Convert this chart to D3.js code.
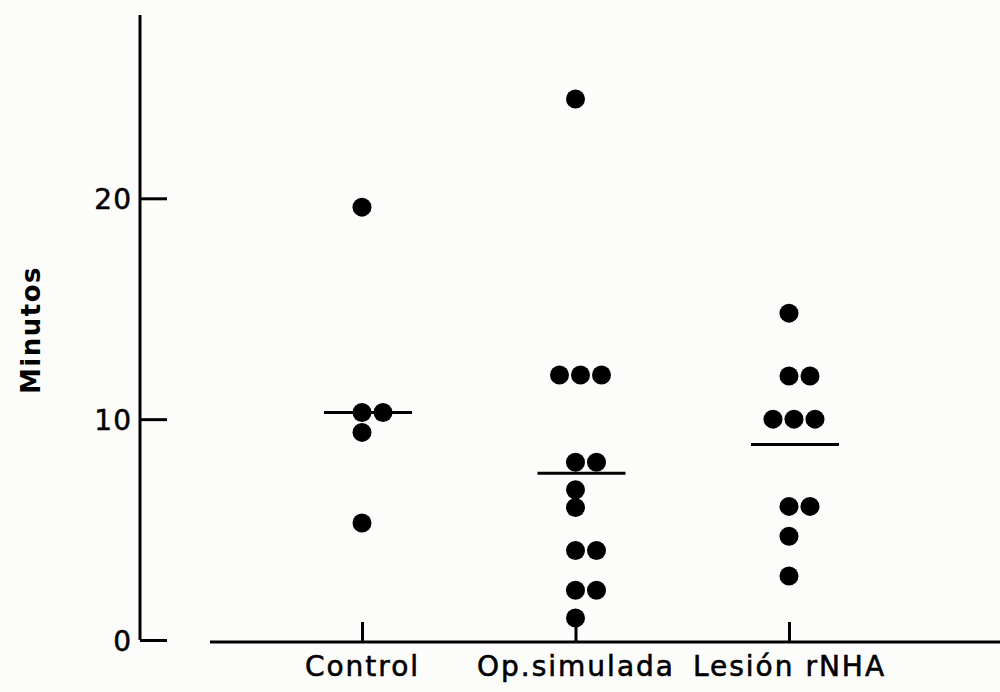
<!DOCTYPE html>
<html>
<head>
<meta charset="utf-8">
<script src="https://cdn.jsdelivr.net/npm/d3@7"></script>
<style>
  body { margin: 0; background: #fcfcfb; }
  svg { display: block; }
</style>
</head>
<body>
<svg id="chart" width="1000" height="692"></svg>
<script>
// values (minutes)
const categories = ["Control", "Op.simulada", "Lesión rNHA"];
const control = [19.6, 10.3, 10.3, 9.4, 5.3];
const opSimulada = [24.5, 12, 12, 12, 8.05, 8.05, 6.8, 6.0, 4.05, 4.05, 2.25, 2.25, 1.0];
const lesion = [14.8, 11.95, 11.95, 10, 10, 10, 6.05, 6.05, 4.7, 2.9];
const medians = [10.3, 7.55, 8.85];
const yTicks = [0, 10, 20];

const groups = [control, opSimulada, lesion];

const svg = d3.select("#chart");
const font = "'DejaVu Sans', sans-serif";

const y = d3.scaleLinear().domain([0, 28.3]).range([640, 15]);
const x = d3.scalePoint().domain(categories).range([362, 789]);

// y axis: long vertical line, ticks pointing right, labels to the left
svg.append("line")
  .attr("x1", 140).attr("x2", 140)
  .attr("y1", y(28.3)).attr("y2", y(0))
  .style("stroke", "#000").style("stroke-width", 3);

const yAxis = svg.append("g")
  .attr("transform", "translate(140,0)")
  .call(d3.axisLeft(y).tickValues(yTicks).tickSizeInner(-27).tickSizeOuter(0).tickPadding(8));
yAxis.select(".domain").remove();
yAxis.selectAll("line").style("stroke", "#000").style("stroke-width", 3);
yAxis.selectAll("text")
  .style("font-family", font).style("font-size", "28px").style("fill", "#000")
  .style("letter-spacing", "1px")
  .style("stroke", "#000").style("stroke-width", 0.5)
  .attr("dy", "0.36em");

svg.append("text")
  .attr("transform", "translate(40,330) rotate(-90)")
  .attr("text-anchor", "middle")
  .style("font-family", font).style("font-size", "26px").style("font-weight", "bold")
  .style("letter-spacing", "1.5px")
  .text("Minutos");

// x axis: separate baseline, short ticks upward at each group
svg.append("line")
  .attr("x1", 210).attr("x2", 1000)
  .attr("y1", 642).attr("y2", 642)
  .style("stroke", "#000").style("stroke-width", 3);

const xAxis = svg.append("g")
  .attr("transform", "translate(0,642)")
  .call(d3.axisBottom(x).tickSizeInner(-20).tickSizeOuter(0).tickPadding(14));
xAxis.select(".domain").remove();
xAxis.selectAll("line").style("stroke", "#000").style("stroke-width", 3);
xAxis.selectAll("text")
  .style("font-family", font).style("font-size", "28px").style("fill", "#000")
  .style("letter-spacing", "2px")
  .style("stroke", "#000").style("stroke-width", 0.6);

// dots: equal values sit side by side
const dots = [];
groups.forEach((vals, gi) => {
  const counts = d3.rollup(vals, (v) => v.length, (d) => d);
  const seen = new Map();
  vals.forEach((v) => {
    const n = counts.get(v);
    const i = seen.get(v) || 0;
    seen.set(v, i + 1);
    const start = n >= 3 ? -16 : 0;
    dots.push({ cat: categories[gi], v, dx: start + i * 21 });
  });
});

svg.append("g")
  .selectAll("circle")
  .data(dots)
  .enter()
  .append("circle")
  .attr("r", 9.5)
  .attr("cx", (d) => x(d.cat) + d.dx)
  .attr("cy", (d) => y(d.v))
  .attr("fill", "#000");

// median bars
svg.append("g")
  .selectAll("line")
  .data(medians)
  .enter()
  .append("line")
  .attr("x1", (d, i) => x(categories[i]) - 38)
  .attr("x2", (d, i) => x(categories[i]) + 50)
  .attr("y1", (d) => y(d))
  .attr("y2", (d) => y(d))
  .style("stroke", "#000")
  .style("stroke-width", 3);
</script>
</body>
</html>
